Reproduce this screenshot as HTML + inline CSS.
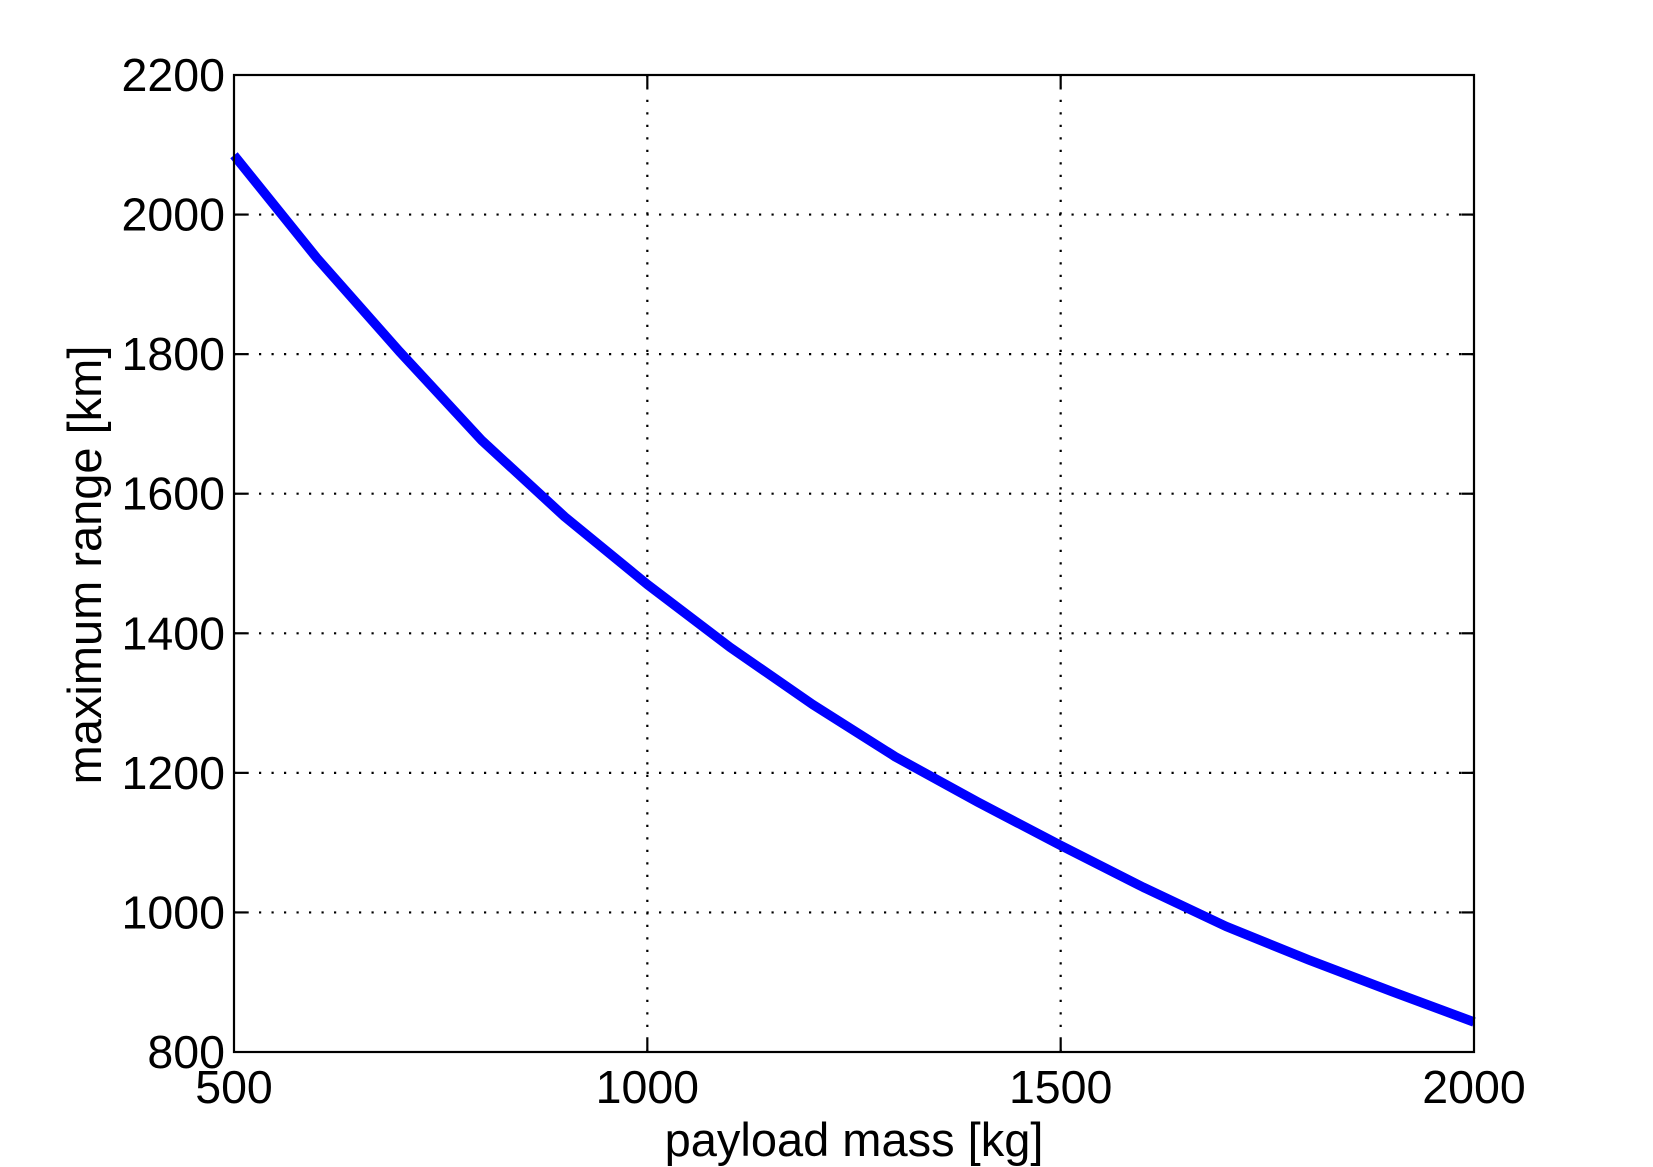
<!DOCTYPE html>
<html>
<head>
<meta charset="utf-8">
<style>
  html, body { margin: 0; padding: 0; background: #ffffff; }
  body { width: 1653px; height: 1167px; overflow: hidden; }
  svg { display: block; }
  text { font-family: "Liberation Sans", Arial, Helvetica, sans-serif; fill: #000; }
</style>
</head>
<body>
<svg width="1653" height="1167" viewBox="0 0 1653 1167" xmlns="http://www.w3.org/2000/svg">
  <rect x="0" y="0" width="1653" height="1167" fill="#ffffff"/>

  <!-- grid lines (dotted) -->
  <g stroke="#000" stroke-width="2.2" stroke-dasharray="2.2 10.3" fill="none">
    <line x1="647.33" y1="1052" x2="647.33" y2="75"/>
    <line x1="1060.67" y1="1052" x2="1060.67" y2="75"/>
    <line x1="234" y1="912.43" x2="1474" y2="912.43"/>
    <line x1="234" y1="772.86" x2="1474" y2="772.86"/>
    <line x1="234" y1="633.29" x2="1474" y2="633.29"/>
    <line x1="234" y1="493.71" x2="1474" y2="493.71"/>
    <line x1="234" y1="354.14" x2="1474" y2="354.14"/>
    <line x1="234" y1="214.57" x2="1474" y2="214.57"/>
  </g>

  <!-- data line -->
  <polyline fill="none" stroke="#0000ff" stroke-width="9.5" stroke-linejoin="round" stroke-linecap="butt"
    points="234,155.25 316.67,257.84 399.33,351.35 482,440.68 564.67,516.75 647.33,584.44 730,647.25 812.67,704.47 895.33,756.81 978,802.17 1060.67,845.44 1143.33,887.31 1226,926.39 1308.67,959.89 1391.33,991.29 1474,1022"/>

  <!-- axes box -->
  <rect x="234" y="75" width="1240" height="977" fill="none" stroke="#000" stroke-width="2.2"/>

  <!-- ticks -->
  <g stroke="#000" stroke-width="2.2">
    <line x1="647.33" y1="1052" x2="647.33" y2="1039.5"/>
    <line x1="1060.67" y1="1052" x2="1060.67" y2="1039.5"/>
    <line x1="647.33" y1="75" x2="647.33" y2="87.5"/>
    <line x1="1060.67" y1="75" x2="1060.67" y2="87.5"/>
    <line x1="234" y1="912.43" x2="246.5" y2="912.43"/>
    <line x1="234" y1="772.86" x2="246.5" y2="772.86"/>
    <line x1="234" y1="633.29" x2="246.5" y2="633.29"/>
    <line x1="234" y1="493.71" x2="246.5" y2="493.71"/>
    <line x1="234" y1="354.14" x2="246.5" y2="354.14"/>
    <line x1="234" y1="214.57" x2="246.5" y2="214.57"/>
    <line x1="1474" y1="912.43" x2="1461.5" y2="912.43"/>
    <line x1="1474" y1="772.86" x2="1461.5" y2="772.86"/>
    <line x1="1474" y1="633.29" x2="1461.5" y2="633.29"/>
    <line x1="1474" y1="493.71" x2="1461.5" y2="493.71"/>
    <line x1="1474" y1="354.14" x2="1461.5" y2="354.14"/>
    <line x1="1474" y1="214.57" x2="1461.5" y2="214.57"/>
  </g>

  <!-- y tick labels -->
  <g font-size="46.5" text-anchor="end">
    <text x="225" y="91">2200</text>
    <text x="225" y="230.57">2000</text>
    <text x="225" y="370.14">1800</text>
    <text x="225" y="509.71">1600</text>
    <text x="225" y="649.29">1400</text>
    <text x="225" y="788.86">1200</text>
    <text x="225" y="928.43">1000</text>
    <text x="225" y="1068">800</text>
  </g>

  <!-- x tick labels -->
  <g font-size="46.5" text-anchor="middle">
    <text x="234" y="1103">500</text>
    <text x="647.33" y="1103">1000</text>
    <text x="1060.67" y="1103">1500</text>
    <text x="1474" y="1103">2000</text>
  </g>

  <!-- axis labels -->
  <text x="854" y="1156" font-size="47" text-anchor="middle">payload mass [kg]</text>
  <text x="0" y="0" font-size="47" text-anchor="middle" transform="translate(101,565) rotate(-90)">maximum range [km]</text>
</svg>
</body>
</html>
